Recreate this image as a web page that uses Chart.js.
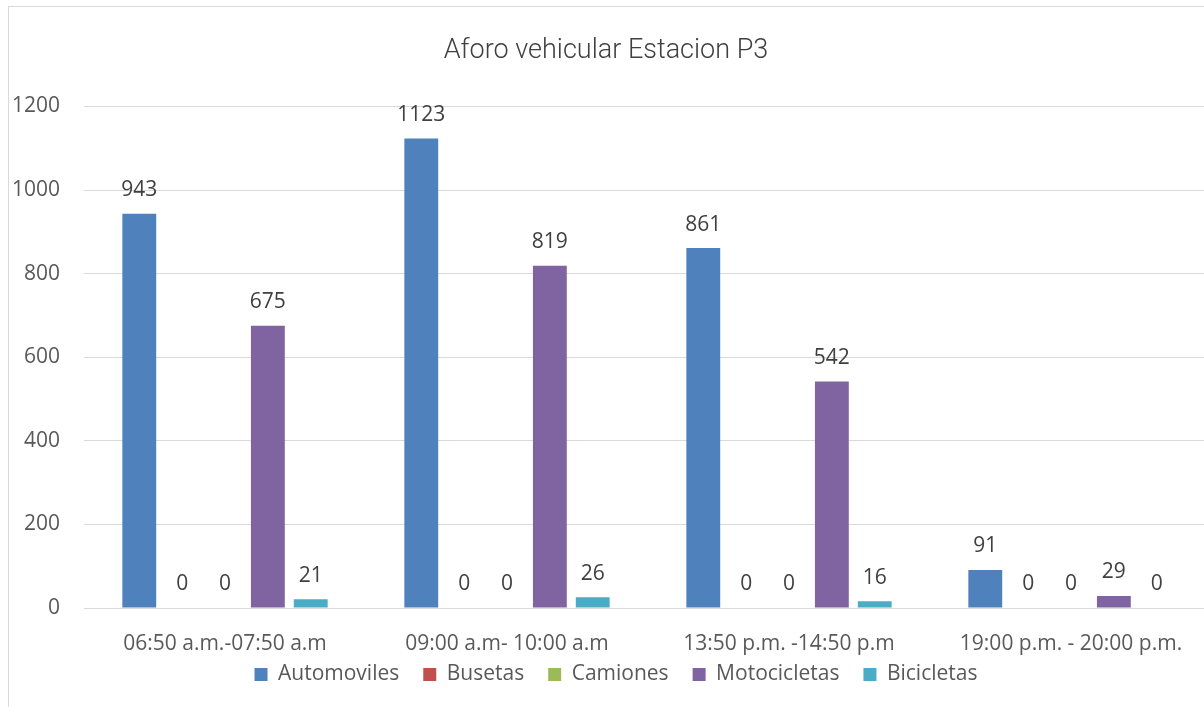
<!DOCTYPE html>
<html>
<head>
<meta charset="utf-8">
<script src="https://cdn.jsdelivr.net/npm/chart.js@4.4.1/dist/chart.umd.min.js"></script>
<style>
  html, body { margin: 0; padding: 0; background: #ffffff; overflow: hidden; width: 1204px; height: 707px; }
  #frame { position: absolute; left: 8px; top: 6px; width: 1260px; height: 760px; border: 1px solid #d9d9d9; box-sizing: border-box; }
  #wrap { position: absolute; left: 0; top: 0; width: 1212px; height: 707px; }
</style>
</head>
<body>
<div id="frame"></div>
<div id="wrap"><canvas id="c" width="1212" height="707"></canvas></div>
<script>
const categories = ['06:50 a.m.-07:50 a.m', '09:00 a.m- 10:00 a.m', '13:50 p.m. -14:50 p.m', '19:00 p.m. - 20:00 p.m.'];
const automoviles = [943, 1123, 861, 91];
const busetas = [0, 0, 0, 0];
const camiones = [0, 0, 0, 0];
const motocicletas = [675, 819, 542, 29];
const bicicletas = [21, 26, 16, 0];
const yTicks = [0, 200, 400, 600, 800, 1000, 1200];

const FONT = '"Open Sans", "Liberation Sans", sans-serif';

// Writes each bar's value just above it
const valueLabels = {
  id: 'valueLabels',
  afterDatasetsDraw(chart) {
    const ctx = chart.ctx;
    ctx.save();
    ctx.font = '21px ' + FONT;
    ctx.fillStyle = '#404040';
    ctx.textAlign = 'center';
    ctx.textBaseline = 'bottom';
    chart.data.datasets.forEach((ds, i) => {
      const meta = chart.getDatasetMeta(i);
      meta.data.forEach((bar, j) => {
        ctx.fillText(String(ds.data[j]), bar.x, bar.y - 13);
      });
    });
    ctx.restore();
  }
};

// Nudges the legend row a little to the right of centre
const legendShift = {
  id: 'legendShift',
  afterLayout(chart) {
    if (chart.legend) {
      chart.legend.left += 10;
      chart.legend.right += 10;
    }
  }
};

new Chart(document.getElementById('c'), {
  type: 'bar',
  data: {
    labels: categories,
    datasets: [
      { label: 'Automoviles', data: automoviles, backgroundColor: '#4F81BD' },
      { label: 'Busetas', data: busetas, backgroundColor: '#C0504D' },
      { label: 'Camiones', data: camiones, backgroundColor: '#9BBB59' },
      { label: 'Motocicletas', data: motocicletas, backgroundColor: '#8064A2' },
      { label: 'Bicicletas', data: bicicletas, backgroundColor: '#4BACC6' }
    ]
  },
  options: {
    responsive: false,
    animation: false,
    categoryPercentage: 0.76,
    barPercentage: 0.79,
    layout: { padding: { left: 0, right: 0, top: 0, bottom: 12 } },
    plugins: {
      title: {
        display: true,
        text: 'Aforo vehicular Estacion P3',
        color: '#404040',
        font: { family: 'Roboto, ' + FONT, size: 27, weight: '300' },
        padding: { top: 35, bottom: 39 }
      },
      legend: {
        position: 'bottom',
        labels: {
          color: '#595959',
          font: { family: FONT, size: 21 },
          boxWidth: 13,
          boxHeight: 13,
          padding: 24
        }
      },
      tooltip: { enabled: false }
    },
    scales: {
      x: {
        // compact axis band; the category labels may run into the legend's top margin
        afterFit(axis) {
          axis.height = 32;
          axis._computeLabelArea = () => undefined;
        },
        grid: { display: false, drawTicks: false },
        border: { color: '#d9d9d9', width: 1 },
        ticks: { color: '#595959', font: { family: FONT, size: 21 }, padding: 23, maxRotation: 0, autoSkip: false }
      },
      y: {
        min: 0,
        max: 1200,
        afterBuildTicks(axis) { axis.ticks = yTicks.map(v => ({ value: v })); },
        afterFit(axis) { axis.width = 84; },
        grid: { color: '#d9d9d9', drawTicks: false },
        border: { display: false },
        ticks: { color: '#595959', font: { family: FONT, size: 21 }, padding: 24, callback: v => String(v) }
      }
    }
  },
  plugins: [valueLabels, legendShift]
});
</script>
</body>
</html>
